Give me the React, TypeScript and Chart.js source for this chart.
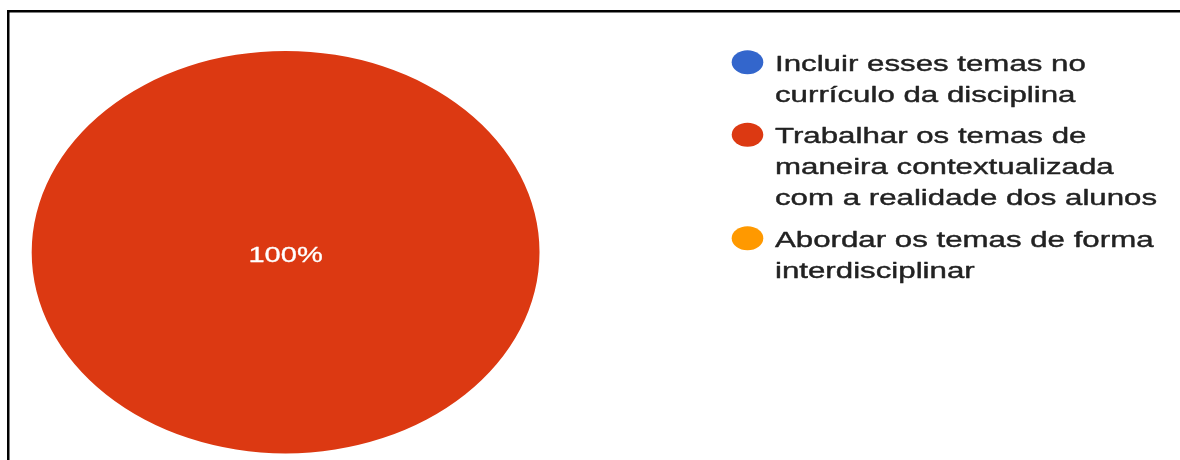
import { useEffect, useRef } from "react";
import { Chart, registerables } from "chart.js";

Chart.register(...registerables);

const CATEGORIES: string[][] = [
  ["Incluir esses temas no", "currículo da disciplina"],
  ["Trabalhar os temas de", "maneira contextualizada", "com a realidade dos alunos"],
  ["Abordar os temas de forma", "interdisciplinar"],
];
const VALUES = [0, 100, 0];
const COLORS = ["#3366cc", "#dc3912", "#ff9900"];

const FONT = "22px 'Liberation Sans', Arial, sans-serif";
const PIE_SX = 1.262;

function drawStretched(
  ctx: CanvasRenderingContext2D,
  text: string,
  x: number,
  y: number,
  kx: number,
  align: CanvasTextAlign,
  stroke: number
) {
  ctx.save();
  ctx.translate(x, y);
  ctx.scale(kx, 1);
  ctx.textAlign = align;
  ctx.textBaseline = "alphabetic";
  ctx.fillText(text, 0, 0);
  if (stroke > 0) {
    ctx.strokeStyle = ctx.fillStyle;
    ctx.lineWidth = stroke;
    ctx.lineJoin = "round";
    ctx.strokeText(text, 0, 0);
  }
  ctx.restore();
}

const stretchPlugin = {
  id: "stretchPie",
  beforeDatasetsDraw(chart: any) {
    const ctx = chart.ctx as CanvasRenderingContext2D;
    const cx = (chart.chartArea.left + chart.chartArea.right) / 2;
    ctx.save();
    ctx.translate(cx, 0);
    ctx.scale(PIE_SX, 1);
    ctx.translate(-cx, 0);
  },
  afterDatasetsDraw(chart: any) {
    const ctx = chart.ctx as CanvasRenderingContext2D;
    ctx.restore();
    const ca = chart.chartArea;
    const cx = (ca.left + ca.right) / 2;
    const cy = (ca.top + ca.bottom) / 2;
    const data = chart.data.datasets[0].data as number[];
    const total = data.reduce((a: number, b: number) => a + b, 0);
    const meta = chart.getDatasetMeta(0);
    ctx.save();
    ctx.fillStyle = "#ffffff";
    ctx.font = FONT;
    data.forEach((v: number, i: number) => {
      if (v <= 0) return;
      const pct = Math.round((v / total) * 100);
      let x = cx;
      let y = cy + 9.5;
      if (pct < 100) {
        const p = meta.data[i].tooltipPosition();
        x = cx + (p.x - cx) * PIE_SX;
        y = p.y + 8;
      }
      drawStretched(ctx, pct + "%", x, y, 1.32, "center", 0.3);
    });
    ctx.restore();
  },
  afterDraw(chart: any) {
    const ctx = chart.ctx as CanvasRenderingContext2D;
    const labels = chart.data.labels as string[][];
    const colors = chart.data.datasets[0].backgroundColor as string[];
    ctx.save();
    // frame lines
    ctx.fillStyle = "#000000";
    ctx.fillRect(7, 10, 1173, 2.5);
    ctx.fillRect(7, 10, 2.5, 450);
    // legend
    ctx.font = FONT;
    let baseline = 70.7;
    labels.forEach((lines, i) => {
      ctx.fillStyle = colors[i];
      ctx.beginPath();
      ctx.ellipse(747.5, baseline - 8.5, 15.8, 12, 0, 0, Math.PI * 2);
      ctx.fill();
      ctx.fillStyle = "#222222";
      lines.forEach((line, j) => {
        drawStretched(ctx, line, 775, baseline + j * 31, 1.42, "left", 0.4);
      });
      baseline += (lines.length - 1) * 31 + 41.5;
    });
    ctx.restore();
  },
};

export default function App() {
  const ref = useRef<HTMLCanvasElement>(null);
  useEffect(() => {
    if (!ref.current) return;
    const chart = new Chart(ref.current, {
      type: "pie",
      data: {
        labels: CATEGORIES as any,
        datasets: [
          {
            data: VALUES,
            backgroundColor: COLORS,
            borderWidth: 0,
          },
        ],
      },
      options: {
        responsive: true,
        maintainAspectRatio: false,
        animation: false,
        events: [],
        layout: {
          padding: { left: 84.4, right: 693.2, top: 51, bottom: 6.6 },
        },
        plugins: {
          legend: { display: false },
          tooltip: { enabled: false },
        },
      },
      plugins: [stretchPlugin],
    });
    return () => chart.destroy();
  }, []);
  return (
    <div
      style={{
        position: "fixed",
        left: 0,
        top: 0,
        width: 1180,
        height: 460,
        background: "#ffffff",
      }}
    >
      <canvas ref={ref} />
    </div>
  );
}
